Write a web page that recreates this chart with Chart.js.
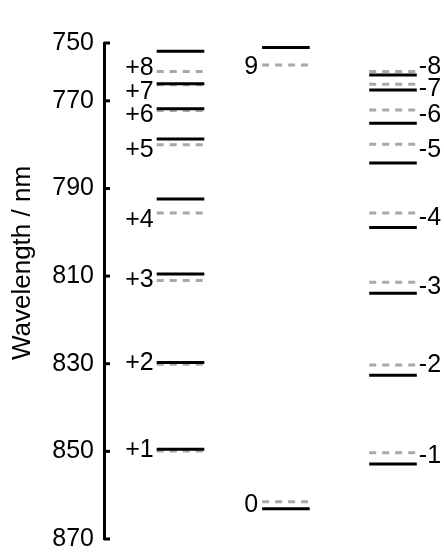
<!DOCTYPE html>
<html>
<head>
<meta charset="utf-8">
<script src="https://cdn.jsdelivr.net/npm/chart.js@4.4.1/dist/chart.umd.min.js"></script>
<style>
  html, body { margin: 0; padding: 0; background: #fff; }
  #wrap { width: 444px; height: 554px; }
</style>
</head>
<body>
<div id="wrap"><canvas id="levels"></canvas></div>
<script>
// level wavelengths (nm), read top to bottom
const leftSolid   = [758.7, 766.1, 771.8, 778.7, 792.4, 809.5, 829.7, 849.5];
const leftDashed  = [763.3, 766.3, 772.2, 780.0, 795.6, 811.0, 830.1, 849.9];
const leftLabels  = ['+8', '+7', '+6', '+5', '+4', '+3', '+2', '+1'];
const leftLabelAt = [762.6, 768.0, 773.2, 781.2, 797.2, 811.0, 829.8, 849.7];

const midSolid    = [757.8, 863.1];
const midDashed   = [761.8, 861.5];
const midLabels   = ['9', '0'];
const midLabelAt  = [762.4, 862.2];

const rightSolid   = [764.1, 767.5, 775.1, 784.2, 798.9, 813.9, 832.6, 852.9];
const rightDashed  = [763.3, 766.2, 772.1, 779.9, 795.6, 811.4, 830.3, 850.3];
const rightLabels  = ['-8', '-7', '-6', '-5', '-4', '-3', '-2', '-1'];
const rightLabelAt = [762.4, 767.3, 773.2, 781.2, 796.8, 812.4, 830.3, 851.1];

// y axis ticks: the top tick sits at the axis end and carries the 750 label
const tickValues = [756.8, 770, 790, 810, 830, 850, 870];
const tickLabels = ['750', '770', '790', '810', '830', '850', '870'];

// column extents on the hidden x scale
const leftCol  = [1.55, 2.95];
const midCol   = [4.65, 6.05];
const rightCol = [7.8, 9.2];

const FONT = '"Liberation Sans", Arial, Helvetica, sans-serif';

function segments(values, col) {
    const pts = [];
    values.forEach(v => {
        pts.push({ x: col[0], y: v }, { x: col[1], y: v }, { x: col[1], y: null });
    });
    return pts;
}

function solidSet(values, col) {
    return {
        data: segments(values, col),
        borderColor: '#000',
        borderWidth: 3,
        pointRadius: 0,
        spanGaps: false,
        order: 0
    };
}

function dashedSet(values, col) {
    return {
        data: segments(values, col),
        borderColor: '#a8a8a8',
        borderWidth: 3,
        borderDash: [7, 6],
        pointRadius: 0,
        spanGaps: false,
        order: 1
    };
}

// inward tick marks, level labels and the rotated axis title
const decorations = {
    id: 'decorations',
    afterDatasetsDraw(chart) {
        const ctx = chart.ctx;
        const xs = chart.scales.x;
        const ys = chart.scales.y;
        const left = chart.chartArea.left;

        ctx.save();
        ctx.strokeStyle = '#000';
        ctx.lineWidth = 3;
        ys.ticks.forEach(t => {
            const y = ys.getPixelForValue(t.value);
            ctx.beginPath();
            ctx.moveTo(left, y);
            ctx.lineTo(left + 6, y);
            ctx.stroke();
        });

        ctx.fillStyle = '#000';
        ctx.font = '25px ' + FONT;
        ctx.textBaseline = 'middle';

        ctx.textAlign = 'right';
        leftLabels.forEach((s, i) => {
            ctx.fillText(s, xs.getPixelForValue(leftCol[0]) - 3, ys.getPixelForValue(leftLabelAt[i]));
        });
        midLabels.forEach((s, i) => {
            ctx.fillText(s, xs.getPixelForValue(midCol[0]) - 4, ys.getPixelForValue(midLabelAt[i]));
        });
        ctx.textAlign = 'left';
        rightLabels.forEach((s, i) => {
            ctx.fillText(s, xs.getPixelForValue(rightCol[1]) + 2, ys.getPixelForValue(rightLabelAt[i]));
        });

        ctx.translate(23, 263);
        ctx.rotate(-Math.PI / 2);
        ctx.textAlign = 'center';
        ctx.font = '26px ' + FONT;
        ctx.fillText('Wavelength / nm', 0, 0);
        ctx.restore();
    }
};

new Chart(document.getElementById('levels'), {
    type: 'line',
    data: {
        datasets: [
            solidSet(leftSolid, leftCol),
            solidSet(midSolid, midCol),
            solidSet(rightSolid, rightCol),
            dashedSet(leftDashed, leftCol),
            dashedSet(midDashed, midCol),
            dashedSet(rightDashed, rightCol)
        ]
    },
    options: {
        responsive: true,
        maintainAspectRatio: false,
        animation: false,
        layout: { padding: { top: 43, bottom: 15, left: 0, right: 0 } },
        plugins: {
            legend: { display: false },
            tooltip: { enabled: false }
        },
        scales: {
            x: {
                type: 'linear',
                min: 0,
                max: 10,
                display: false
            },
            y: {
                type: 'linear',
                reverse: true,
                min: tickValues[0],
                max: tickValues[tickValues.length - 1],
                afterBuildTicks(scale) {
                    scale.ticks = tickValues.map(v => ({ value: v }));
                },
                afterFit(scale) {
                    scale.width = 104;
                    scale.paddingTop = 0;
                    scale.paddingBottom = 0;
                },
                border: { display: true, color: '#000', width: 3 },
                grid: { display: false, drawTicks: false },
                ticks: {
                    padding: 10,
                    color: '#000',
                    font: { family: FONT, size: 25 },
                    callback(value, index) {
                        return tickLabels[index];
                    }
                }
            }
        }
    },
    plugins: [decorations]
});
</script>
</body>
</html>
